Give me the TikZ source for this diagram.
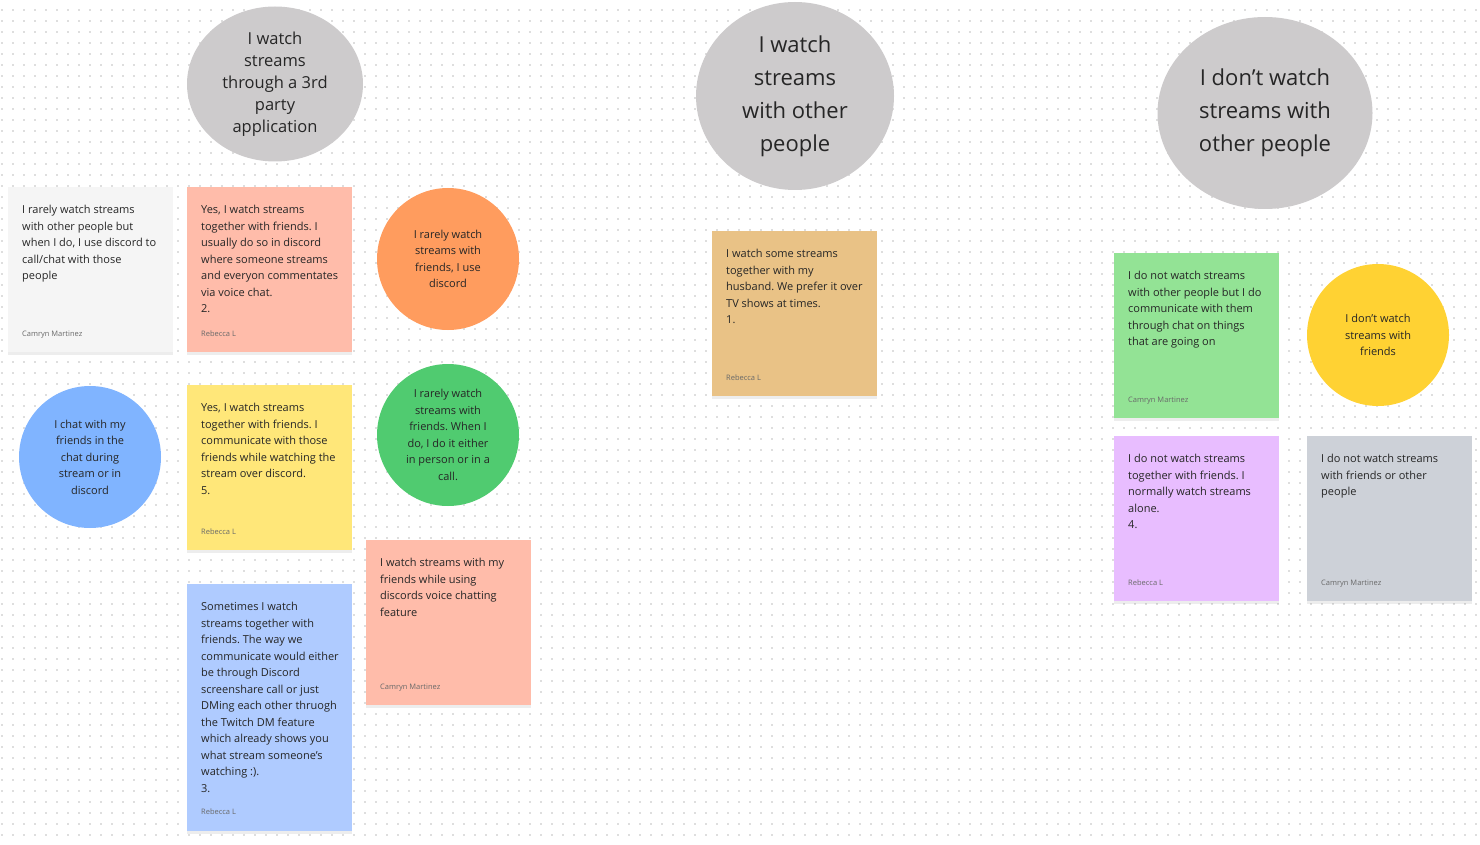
\documentclass[tikz,border=0pt]{standalone}
\usepackage{fontspec}
\setmainfont{Open Sans}
\usepackage{tikz}
\usetikzlibrary{positioning,shapes.geometric,shadows}
\definecolor{dotgray}{RGB}{222,222,222}
\definecolor{inktext}{RGB}{38,38,38}
\definecolor{inkgray}{RGB}{105,105,105}
\definecolor{topicgray}{RGB}{205,203,204}
\definecolor{notewhite}{RGB}{245,245,245}
\definecolor{notesalmon}{RGB}{255,188,170}
\definecolor{noteyellow}{RGB}{255,231,121}
\definecolor{noteblue}{RGB}{175,203,255}
\definecolor{notetan}{RGB}{233,194,134}
\definecolor{notegreen}{RGB}{147,227,149}
\definecolor{notepurple}{RGB}{232,189,255}
\definecolor{notegray}{RGB}{205,209,216}
\definecolor{dotorange}{RGB}{255,156,94}
\definecolor{dotblue}{RGB}{128,180,255}
\definecolor{dotgreen}{RGB}{80,203,112}
\definecolor{dotyellow}{RGB}{255,210,51}

\begin{document}
\frenchspacing
\begin{tikzpicture}[
    x=1pt, y=-1pt,
    dotgrid/.style={line width=1.5pt, draw=dotgray, dash pattern=on 1.5pt off 9.5pt},
    note/.style={rectangle, anchor=north west, minimum width=165pt, minimum height=165pt, inner sep=0pt,
        drop shadow={shadow xshift=0pt, shadow yshift=-3pt, fill=black, opacity=0.07}},
    tallnote/.style={note, minimum height=247pt},
    notetext/.style={inner sep=0pt, align=left, text=inktext, font=\fontsize{11}{16.5}\selectfont\frenchspacing},
    author/.style={inner sep=0pt, text=inkgray, font=\fontsize{7.5}{9}\selectfont, text height=6pt, text depth=2pt},
    bubble/.style={circle, minimum size=142pt, inner sep=0pt, align=center, text=inktext, font=\fontsize{11}{16.5}\selectfont\frenchspacing},
    topic/.style={ellipse, fill=topicgray, inner sep=0pt, align=center, text=inktext},
    topicsmall/.style={topic, font=\fontsize{16.5}{22}\selectfont},
    topicbig/.style={topic, font=\fontsize{22}{33}\selectfont}
]

\useasboundingbox (0,0) rectangle (1480,845);
\fill[white] (0,0) rectangle (1480,845);
\foreach \row in {0,...,76}
    \draw[dotgrid] (1.25,10+11*\row) -- (1480,10+11*\row);

% ============ 3rd party application ============
\node[topicsmall, minimum width=176pt, minimum height=155pt] (third-party) at (275,84) {I watch\\streams\\through a 3rd\\party\\application};

\node[note, fill=notewhite] (rarely-discord) at (8,187) {};
\node[notetext, below right=18pt and 14pt of rarely-discord.north west] (rarely-discord-txt) {I rarely watch streams\\with other people but\\when I do, I use discord to\\call/chat with those\\people};
\node[author, above right=14pt and 14pt of rarely-discord.south west] (rarely-discord-by) {Camryn Martinez};

\node[note, fill=notesalmon] (yes-comment) at (187,187) {};
\node[notetext, below right=18pt and 14pt of yes-comment.north west] (yes-comment-txt) {Yes, I watch streams\\together with friends. I\\usually do so in discord\\where someone streams\\and everyon commentates\\via voice chat.\\2.};
\node[author, above right=14pt and 14pt of yes-comment.south west] (yes-comment-by) {Rebecca L};

\node[bubble, fill=dotorange] (rarely-use) at (448,259) {I rarely watch\\streams with\\friends, I use\\discord};

\node[bubble, fill=dotblue] (chat-stream) at (90,457) {I chat with my\\friends in the\\chat during\\stream or in\\discord};

\node[note, fill=noteyellow] (yes-over) at (187,385) {};
\node[notetext, below right=18pt and 14pt of yes-over.north west] (yes-over-txt) {Yes, I watch streams\\together with friends. I\\communicate with those\\friends while watching the\\stream over discord.\\5.};
\node[author, above right=14pt and 14pt of yes-over.south west] (yes-over-by) {Rebecca L};

\node[bubble, fill=dotgreen] (rarely-call) at (448,435) {I rarely watch\\streams with\\friends. When I\\do, I do it either\\in person or in a\\call.};

\node[note, fill=notesalmon] (voice-chat) at (366,540) {};
\node[notetext, below right=18pt and 14pt of voice-chat.north west] (voice-chat-txt) {I watch streams with my\\friends while using\\discords voice chatting\\feature};
\node[author, above right=14pt and 14pt of voice-chat.south west] (voice-chat-by) {Camryn Martinez};

\node[tallnote, fill=noteblue] (sometimes) at (187,584) {};
\node[notetext, below right=18pt and 14pt of sometimes.north west] (sometimes-txt) {Sometimes I watch\\streams together with\\friends. The way we\\communicate would either\\be through Discord\\screenshare call or just\\DMing each other thruogh\\the Twitch DM feature\\which already shows you\\what stream someone’s\\watching :).\\3.};
\node[author, above right=15pt and 14pt of sometimes.south west] (sometimes-by) {Rebecca L};

% ============ with other people ============
\node[topicbig, minimum width=198pt, minimum height=188pt] (with-others) at (795,96) {I watch\\streams\\with other\\people};

\node[note, fill=notetan] (husband) at (712,231) {};
\node[notetext, below right=18pt and 14pt of husband.north west] (husband-txt) {I watch some streams\\together with my\\husband. We prefer it over\\TV shows at times.\\1.};
\node[author, above right=14pt and 14pt of husband.south west] (husband-by) {Rebecca L};

% ============ not with other people ============
\node[topicbig, minimum width=215pt, minimum height=192pt] (not-others) at (1265,113) {I don’t watch\\streams with\\other people};

\node[note, fill=notegreen] (chat-things) at (1114,253) {};
\node[notetext, below right=18pt and 14pt of chat-things.north west] (chat-things-txt) {I do not watch streams\\with other people but I do\\communicate with them\\through chat on things\\that are going on};
\node[author, above right=14pt and 14pt of chat-things.south west] (chat-things-by) {Camryn Martinez};

\node[bubble, fill=dotyellow] (no-friends) at (1378,335) {I don’t watch\\streams with\\friends};

\node[note, fill=notepurple] (alone) at (1114,436) {};
\node[notetext, below right=18pt and 14pt of alone.north west] (alone-txt) {I do not watch streams\\together with friends. I\\normally watch streams\\alone.\\4.};
\node[author, above right=14pt and 14pt of alone.south west] (alone-by) {Rebecca L};

\node[note, fill=notegray] (no-one) at (1307,436) {};
\node[notetext, below right=18pt and 14pt of no-one.north west] (no-one-txt) {I do not watch streams\\with friends or other\\people};
\node[author, above right=14pt and 14pt of no-one.south west] (no-one-by) {Camryn Martinez};

\end{tikzpicture}
\end{document}
